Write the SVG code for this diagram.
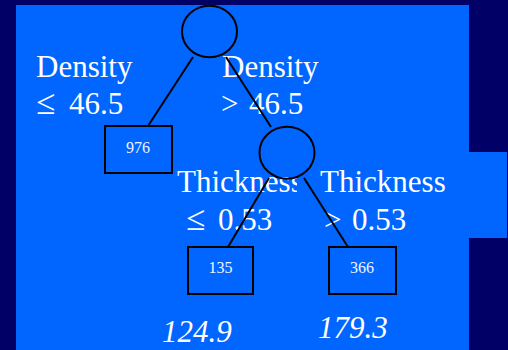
<svg xmlns="http://www.w3.org/2000/svg" width="508" height="350" viewBox="0 0 508 350">
<style>
.lbl{font-family:"Liberation Serif","Times New Roman",serif;font-size:31px;fill:#ffffff}
.sym{font-size:35px}
.val{font-family:"Liberation Serif","Times New Roman",serif;font-size:31px;font-style:italic;fill:#ffffff}
.num{font-family:"Liberation Serif","Times New Roman",serif;font-size:16px;fill:#f2f6ff;text-anchor:middle}
.node{fill:none;stroke:#000000;stroke-width:2}
.edge{stroke:#000000;stroke-width:2;fill:none}
</style>
<defs>
<clipPath id="clipT"><rect x="0" y="150" width="297" height="60"/></clipPath>
</defs>
<rect x="0" y="0" width="508" height="350" fill="#000066"/>
<rect x="16" y="5" width="453" height="345" fill="#0066ff"/>
<rect x="469" y="152" width="38" height="86" fill="#0066ff"/>
<g id="labels">
<text class="lbl" x="36" y="77">Density</text>
<text class="lbl" y="114"><tspan class="sym" x="36">≤</tspan><tspan x="69">46.5</tspan></text>
<text class="lbl" x="222" y="77">Density</text>
<text class="lbl" y="114"><tspan x="221">&gt;</tspan><tspan x="249">46.5</tspan></text>
<text class="lbl" x="177" y="192" clip-path="url(#clipT)">Thickness</text>
<text class="lbl" y="230"><tspan class="sym" x="186">≤</tspan><tspan x="218">0.53</tspan></text>
<text class="lbl" x="320" y="192">Thickness</text>
<text class="lbl" y="230"><tspan x="324">&gt;</tspan><tspan x="352">0.53</tspan></text>
<text class="val" x="162" y="342">124.9</text>
<text class="val" x="318" y="338">179.3</text>
</g>
<g id="connectors">
<line class="edge" x1="193" y1="57" x2="148" y2="126"/>
<line class="edge" x1="226" y1="57" x2="271" y2="127"/>
<line class="edge" x1="269" y1="178" x2="228" y2="247"/>
<line class="edge" x1="304" y1="178" x2="348" y2="247"/>
</g>
<g id="root"><ellipse class="node" cx="209.5" cy="31.5" rx="27.5" ry="25.8"/></g>
<g id="split2"><ellipse class="node" cx="287" cy="152.7" rx="27.5" ry="26"/></g>
<g id="leaf976"><rect class="node" x="105" y="126" width="67" height="47"/><text class="num" x="138" y="153">976</text></g>
<g id="leaf135"><rect class="node" x="188" y="247" width="65" height="47"/><text class="num" x="220.5" y="273">135</text></g>
<g id="leaf366"><rect class="node" x="329" y="247" width="67" height="47"/><text class="num" x="362" y="273">366</text></g>
</svg>
